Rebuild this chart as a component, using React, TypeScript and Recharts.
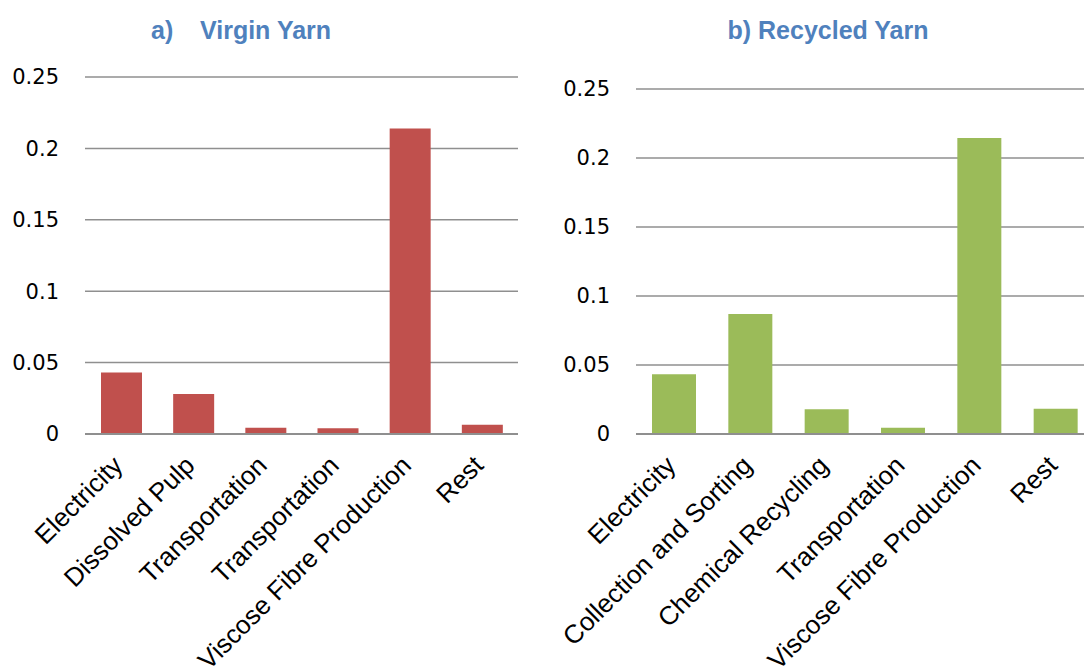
import { BarChart, Bar, XAxis, YAxis, CartesianGrid } from "recharts";

const virginCategories = [
  "Electricity",
  "Dissolved Pulp",
  "Transportation",
  "Transportation",
  "Viscose Fibre Production",
  "Rest",
];
const virginValues = [0.043, 0.028, 0.0044, 0.004, 0.214, 0.0065];

const recycledCategories = [
  "Electricity",
  "Collection and Sorting",
  "Chemical Recycling",
  "Transportation",
  "Viscose Fibre Production",
  "Rest",
];
const recycledValues = [0.0433, 0.087, 0.0179, 0.0046, 0.2145, 0.0183];

const yTicks = [0, 0.05, 0.1, 0.15, 0.2, 0.25];

const virginData = virginCategories.map((name, i) => ({ name, value: virginValues[i] }));
const recycledData = recycledCategories.map((name, i) => ({ name, value: recycledValues[i] }));

const GRID = "#8f8f8f";
const TITLE = "#4f81bd";

function CategoryTick({ x, y, payload }: any) {
  const tx = x + 3;
  const ty = y + 33;
  return (
    <text
      x={tx}
      y={ty}
      transform={`rotate(-45, ${tx}, ${ty})`}
      textAnchor="end"
      fontSize={26}
      fontFamily="'Liberation Sans', Arial, sans-serif"
      fill="#000"
    >
      {payload.value}
    </text>
  );
}

function Panel({
  data,
  color,
  width,
  top,
  axisWidth,
  right,
  barSize,
}: {
  data: { name: string; value: number }[];
  color: string;
  width: number;
  top: number;
  axisWidth: number;
  right: number;
  barSize: number;
}) {
  return (
    <BarChart
      width={width}
      height={672}
      data={data}
      margin={{ top, right, bottom: 0, left: 0 }}
    >
      <CartesianGrid vertical={false} stroke={GRID} strokeWidth={1.5} />
      <XAxis
        dataKey="name"
        interval={0}
        height={238}
        tickLine={false}
        tickSize={0}
        tickMargin={0}
        axisLine={{ stroke: GRID, strokeWidth: 2 }}
        tick={<CategoryTick />}
      />
      <YAxis
        width={axisWidth}
        domain={[0, 0.25]}
        ticks={yTicks}
        axisLine={false}
        tickLine={false}
        tickSize={0}
        tickMargin={26}
        tick={{ fill: "#000", fontSize: 21, fontFamily: "'DejaVu Sans', sans-serif" }}
      />
      <Bar dataKey="value" fill={color} barSize={barSize} isAnimationActive={false} />
    </BarChart>
  );
}

export default function App() {
  return (
    <div
      style={{
        position: "absolute",
        left: 0,
        top: 0,
        width: 1084,
        height: 672,
        overflow: "hidden",
        background: "#fff",
      }}
    >
      <div style={{ position: "absolute", left: 0, top: 0 }}>
        <Panel
          data={virginData}
          color="#c0504d"
          width={540}
          top={77}
          axisWidth={85}
          right={22}
          barSize={41}
        />
      </div>
      <div style={{ position: "absolute", left: 540, top: 0 }}>
        <Panel
          data={recycledData}
          color="#9bbb59"
          width={564}
          top={89}
          axisWidth={96}
          right={10}
          barSize={44}
        />
      </div>
      <svg
        width={1084}
        height={672}
        style={{ position: "absolute", left: 0, top: 0, pointerEvents: "none" }}
        fontFamily="'Liberation Sans', Arial, sans-serif"
        fontWeight="bold"
        fontSize={25}
        fill={TITLE}
      >
        <text x={151} y={39}>a)</text>
        <text x={200} y={39}>Virgin Yarn</text>
        <text x={828} y={39} textAnchor="middle">
          b) Recycled Yarn
        </text>
      </svg>
    </div>
  );
}
